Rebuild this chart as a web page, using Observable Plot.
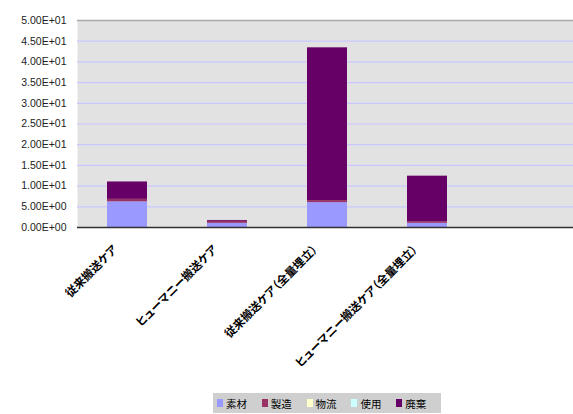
<!DOCTYPE html>
<html>
<head>
<meta charset="utf-8">
<script src="https://cdn.jsdelivr.net/npm/d3@7"></script>
<script src="https://cdn.jsdelivr.net/npm/@observablehq/plot@0.6"></script>
<style>
  html, body { margin: 0; padding: 0; background: #fff; }
  #wrap { position: relative; width: 573px; height: 414px; overflow: hidden; }
  #legend {
    position: absolute; left: 213px; top: 393px; width: 228px; height: 20px;
    background: #cfcfcf; display: flex; align-items: center; gap: 0;
    font-family: "Noto Sans CJK JP", sans-serif; font-size: 10.5px; color: #000;
    box-sizing: border-box; padding-left: 4px;
  }
  #legend .item { display: flex; align-items: center; width: 45px; }
  #legend .sw { width: 6px; height: 8px; margin-right: 3px; }
  .xlab text { font-feature-settings: "palt"; }
</style>
</head>
<body>
<div id="wrap">
  <div id="chart"></div>
  <div id="legend"></div>
</div>
<script>
// Product categories (fifth slot is an empty column on the axis)
const categories = ["従来搬送ケア", "ヒューマニー搬送ケア", "従来搬送ケア（全量埋立）", "ヒューマニー搬送ケア（全量埋立）", ""];

// Life-cycle stages and their colours
const stages = ["素材", "製造", "物流", "使用", "廃棄"];
const stageColors = ["#9999ff", "#993366", "#ffffcc", "#ccffff", "#660066"];

// Values per stage, one per category
const material      = [6.2, 1.0, 6.0, 1.0];
const manufacturing = [0.6, 0.5, 0.5, 0.4];
const logistics     = [0, 0, 0, 0];
const usage         = [0, 0, 0, 0];
const disposal      = [4.2, 0.2, 36.9, 11.0];

// Axis ticks
const yTicks = [0, 5, 10, 15, 20, 25, 30, 35, 40, 45, 50];

const series = [material, manufacturing, logistics, usage, disposal];
const rows = [];
series.forEach((vals, si) => {
  vals.forEach((v, ci) => rows.push({category: categories[ci], stage: stages[si], value: v}));
});

// Scientific notation with two-digit exponent, e.g. 5.00E+01
function sci(d) {
  const [m, e] = d.toExponential(2).toUpperCase().split("E");
  const sign = e[0];
  const digits = e.slice(1).padStart(2, "0");
  return `${m}E${sign}${digits}`;
}

const chart = Plot.plot({
  width: 573,
  height: 385,
  marginLeft: 77,
  marginTop: 20,
  marginBottom: 158,
  marginRight: 0,
  style: {fontFamily: "'Liberation Sans', Arial, sans-serif", fontSize: "10.5px", color: "#000", background: "transparent"},
  x: {domain: categories, range: [77, 577], paddingInner: 0.6, paddingOuter: 0.3, label: null},
  y: {domain: [0, 50], label: null},
  color: {domain: stages, range: stageColors},
  marks: [
    Plot.frame({fill: "#e2e2e2", stroke: null}),
    Plot.ruleY(yTicks.filter(d => d > 0), {stroke: "#c8c8ff", strokeWidth: 1.2}),
    Plot.barY(rows, Plot.stackY({order: stages}, {x: "category", y: "value", fill: "stage"})),
    Plot.ruleY([50], {stroke: "#a8a8a8", strokeWidth: 1.5}),
    Plot.ruleX([0], {frameAnchor: "left", stroke: "#8c8c8c", strokeWidth: 3}),
    Plot.ruleY([0], {stroke: "#303030", strokeWidth: 1.5}),
    Plot.axisY({ticks: yTicks, tickFormat: sci, tickSize: 0, tickPadding: 11, fontSize: 10.5, fill: "#222"}),
    Plot.axisX({className: "xlab", tickSize: 0, tickRotate: -45, tickPadding: 6, dx: -12, dy: 14, fontSize: 11.5, fontFamily: "'Noto Sans CJK JP', sans-serif", fontWeight: "bold"})
  ]
});
document.getElementById("chart").appendChild(chart);

// Legend strip below the plot
const legend = document.getElementById("legend");
stages.forEach((s, i) => {
  const item = document.createElement("div");
  item.className = "item";
  const sw = document.createElement("span");
  sw.className = "sw";
  sw.style.background = stageColors[i];
  const label = document.createElement("span");
  label.textContent = s;
  item.appendChild(sw);
  item.appendChild(label);
  legend.appendChild(item);
});
</script>
</body>
</html>
